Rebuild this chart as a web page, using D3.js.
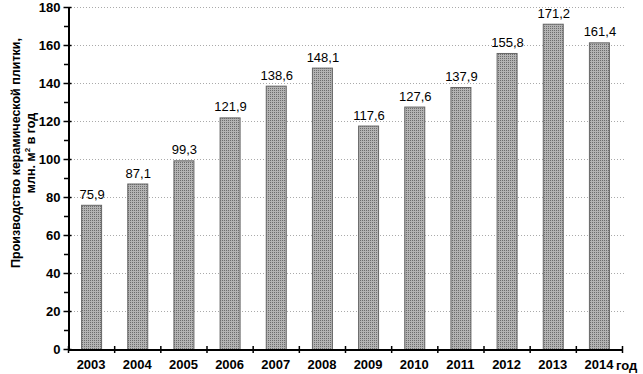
<!DOCTYPE html>
<html>
<head>
<meta charset="utf-8">
<script src="https://cdn.jsdelivr.net/npm/d3@7"></script>
<style>
  body { margin: 0; background: #fff; }
  text { font-family: Arial, "Liberation Sans", sans-serif; }
</style>
</head>
<body>
<div id="chart"></div>
<script>
  // data
  var years = ["2003", "2004", "2005", "2006", "2007", "2008", "2009", "2010", "2011", "2012", "2013", "2014"];
  var values = [75.9, 87.1, 99.3, 121.9, 138.6, 148.1, 117.6, 127.6, 137.9, 155.8, 171.2, 161.4];
  var yTicks = [0, 20, 40, 60, 80, 100, 120, 140, 160, 180];

  var width = 643, height = 374;
  var plotLeft = 68, plotRight = 622, plotTop = 7, plotBottom = 349;

  var svg = d3.select("#chart").append("svg")
    .attr("width", width)
    .attr("height", height);

  // mesh fill for bars
  var pat = svg.append("defs").append("pattern")
    .attr("id", "hatch")
    .attr("width", 2).attr("height", 2)
    .attr("patternUnits", "userSpaceOnUse");
  pat.append("rect").attr("width", 2).attr("height", 2).attr("fill", "#b3b3b3");
  pat.append("rect").attr("width", 1).attr("height", 1).attr("fill", "#6c6c6c");

  var x = d3.scaleBand().domain(years).range([plotLeft, plotRight]).paddingInner(0).paddingOuter(0);
  var y = d3.scaleLinear().domain([0, 180]).range([plotBottom, plotTop]);

  // gridlines
  svg.append("g").selectAll("line")
    .data(yTicks.slice(1))
    .join("line")
    .attr("x1", plotLeft).attr("x2", plotRight + 3)
    .attr("y1", function(d) { return y(d) + 0.5; })
    .attr("y2", function(d) { return y(d) + 0.5; })
    .attr("stroke", "#aaa")
    .attr("stroke-dasharray", "1,2");

  // bars
  var bw = 20;
  svg.append("g").selectAll("rect")
    .data(values)
    .join("rect")
    .attr("x", function(d, i) { return x(years[i]) + x.bandwidth() / 2 - bw / 2 + 0.5; })
    .attr("y", function(d) { return y(d) + 0.5; })
    .attr("width", bw)
    .attr("height", function(d) { return plotBottom - y(d); })
    .attr("fill", "url(#hatch)")
    .attr("stroke", "#666")
    .attr("stroke-width", 1);

  // value labels
  svg.append("g").selectAll("text")
    .data(values)
    .join("text")
    .attr("x", function(d, i) { return x(years[i]) + x.bandwidth() / 2 + 1; })
    .attr("y", function(d) { return y(d) - 6; })
    .attr("text-anchor", "middle")
    .attr("font-size", 13)
    .attr("fill", "#000")
    .text(function(d) { return d.toFixed(1).replace(".", ","); });

  // y axis
  var yAxis = svg.append("g")
    .attr("transform", "translate(" + (plotLeft + 0.5) + ",0)")
    .call(d3.axisLeft(y).tickValues(yTicks).tickSize(5).tickSizeOuter(0));
  yAxis.select(".domain").attr("stroke", "#000").attr("stroke-width", 2);
  yAxis.selectAll(".tick line").attr("stroke", "#000").attr("stroke-width", 1.5)
    .attr("x2", -5).attr("x1", 3);
  yAxis.selectAll(".tick text")
    .attr("font-size", 13).attr("font-weight", "bold")
    .attr("font-family", "Arial, 'Liberation Sans', sans-serif")
    .attr("x", -8);
  // minor ticks
  svg.append("g").selectAll("line")
    .data(d3.range(10, 180, 20))
    .join("line")
    .attr("x1", plotLeft - 4).attr("x2", plotLeft + 1)
    .attr("y1", function(d) { return y(d) + 0.5; })
    .attr("y2", function(d) { return y(d) + 0.5; })
    .attr("stroke", "#000").attr("stroke-width", 1.5);

  // x axis
  var xAxis = svg.append("g")
    .attr("transform", "translate(0," + (plotBottom + 0.5) + ")")
    .call(d3.axisBottom(x).tickSize(0).tickPadding(10));
  xAxis.select(".domain").attr("stroke", "#000").attr("stroke-width", 2);
  xAxis.selectAll(".tick text")
    .attr("font-size", 13).attr("font-weight", "bold")
    .attr("font-family", "Arial, 'Liberation Sans', sans-serif");
  // category boundary ticks
  svg.append("g").selectAll("line")
    .data(years.concat(["end"]))
    .join("line")
    .attr("x1", function(d, i) { return plotLeft + i * x.step() + 0.5; })
    .attr("x2", function(d, i) { return plotLeft + i * x.step() + 0.5; })
    .attr("y1", plotBottom - 3).attr("y2", plotBottom + 4)
    .attr("stroke", "#000").attr("stroke-width", 1.5);

  svg.append("text")
    .attr("x", 616).attr("y", plotBottom + 21)
    .attr("font-size", 13).attr("font-weight", "bold")
    .text("год");

  // y axis title
  var title = svg.append("text")
    .attr("transform", "translate(20," + 153 + ") rotate(-90)")
    .attr("text-anchor", "middle")
    .attr("font-size", 12.5).attr("font-weight", "bold");
  title.append("tspan").attr("x", 0).attr("dy", 0).text("Производство керамической плитки,");
  var t2 = title.append("tspan").attr("x", 0).attr("dy", 15).text("млн. м");
  t2.append("tspan").attr("font-size", 8).attr("dy", -5).text("2");
  t2.append("tspan").attr("dy", 5).text(" в год");
</script>
</body>
</html>
